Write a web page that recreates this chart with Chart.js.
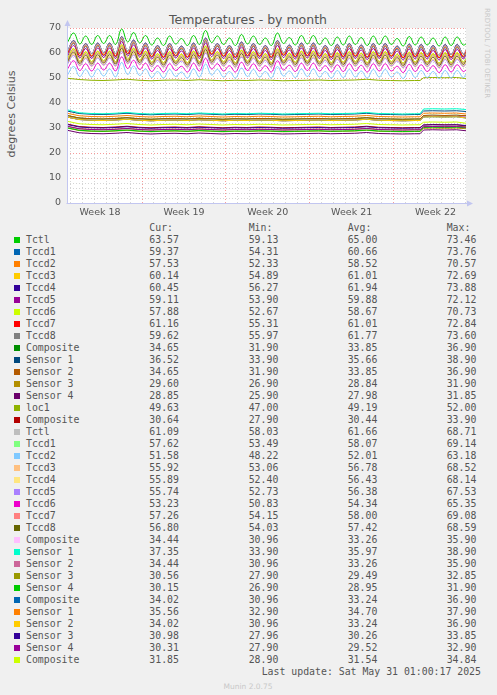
<!DOCTYPE html>
<html lang="en">
<head>
<meta charset="UTF-8">
<title>Temperatures - by month</title>
<script src="https://cdn.jsdelivr.net/npm/chart.js"></script>
<style>
  body { margin: 0; background: #f0f0f0; width: 497px; height: 695px; overflow: hidden; position: relative; font-family: 'DejaVu Sans', sans-serif; color: #555; }
  #chartBox { position: absolute; left: 0; top: 0; width: 497px; height: 222px; }
  .title { position: absolute; left: 248px; top: 19px; transform: translate(-50%, -50%); font-size: 12.5px; white-space: nowrap; }
  .ytitle { position: absolute; left: 11px; top: 114px; transform: translate(-50%, -50%) rotate(-90deg); font-size: 11px; white-space: nowrap; }
  .mark { position: absolute; left: 487px; top: 53px; transform: translate(-50%, -50%) rotate(90deg); font-size: 7px; color: #c8c8c8; white-space: nowrap; }
  #legend { position: absolute; left: 0; top: 0; font-family: 'DejaVu Sans Mono', monospace; font-size: 9.85px; color: #555; }
  #legend .txt { position: absolute; height: 12px; line-height: 12px; white-space: nowrap; }
  #legend .sq { position: absolute; width: 6px; height: 6px; }
  .munin { position: absolute; left: 248px; top: 686px; transform: translate(-50%, -50%); font-size: 7.5px; color: #c8c8c8; white-space: nowrap; }
</style>
</head>
<body>
<div class="title">Temperatures - by month</div>
<div class="ytitle">degrees Celsius</div>
<div class="mark">RRDTOOL / TOBI OETIKER</div>
<div id="chartBox"><canvas id="chart" width="497" height="222"></canvas></div>
<div id="legend"></div>
<div class="munin">Munin 2.0.75</div>

<script>
// time axis in days from Mon 28 Apr 00:00 (start of week 18)
const tHalf = [0.75, 1.3,1.8, 2.3,2.8, 3.3,3.8, 4.3,4.8, 5.3,5.8, 6.3,6.8, 7.3,7.8, 8.3,8.8, 9.3,9.8, 10.3,10.8,
  11.3,11.8, 12.3,12.8, 13.3,13.8, 14.3,14.8, 15.3,15.8, 16.3,16.8, 17.3,17.8, 18.3,18.8, 19.3,19.8, 20.3,20.8,
  21.3,21.8, 22.3,22.8, 23.3,23.8, 24.3,24.8, 25.3,25.8, 26.3,26.8, 27.3,27.8, 28.3,28.8, 29.3,29.8, 30.3,30.8,
  31.3,31.8, 32.3,32.8, 33.3,33.8, 34.04];
const tDay = [0.75, 1.75, 2.75, 3.75, 4.75, 5.75, 6.75, 7.75, 8.75, 9.75, 10.75, 11.75, 12.75, 13.75, 14.75,
  15.75, 16.75, 17.75, 18.75, 19.75, 20.75, 21.75, 22.75, 23.75, 24.75, 25.75, 26.75, 27.75, 28.75, 29.75,
  30.2, 30.5, 31.25, 32.25, 33.25, 34.04];

const dayLines = [1,2,3,4,5,6,7,8,9,10,11,12,13,14,15,16,17,18,19,20,21,22,23,24,25,26,27,28,29,30,31,32,33,34];
const weekLines = [7, 14, 21, 28];
const weekMid = [3.5, 10.5, 17.5, 24.5, 31.5];
const weekLabels = ['Week 18', 'Week 19', 'Week 20', 'Week 21', 'Week 22'];

const names = ['Tctl','Tccd1','Tccd2','Tccd3','Tccd4','Tccd5','Tccd6','Tccd7','Tccd8',
  'Composite','Sensor 1','Sensor 2','Sensor 3','Sensor 4','loc1','Composite',
  'Tctl','Tccd1','Tccd2','Tccd3','Tccd4','Tccd5','Tccd6','Tccd7','Tccd8',
  'Composite','Sensor 1','Sensor 2','Sensor 3','Sensor 4',
  'Composite','Sensor 1','Sensor 2','Sensor 3','Sensor 4','Composite'];
const colors = ['#00CC00','#0066B3','#FF8000','#FFCC00','#330099','#990099','#CCFF00','#FF0000','#808080',
  '#008F00','#00487D','#B35A00','#B38F00','#6B006B','#8FB300','#B30000',
  '#BEBEBE','#80FF80','#80C9FF','#FFC080','#FFE680','#AA80FF','#EE00CC','#FF8080','#666600',
  '#FFBFFF','#00FFCC','#CC6699','#999900','#00CC00',
  '#0066B3','#FF8000','#FFCC00','#330099','#990099','#CCFF00'];

const curVals = [63.57,59.37,57.53,60.14,60.45,59.11,57.88,61.16,59.62,34.65,36.52,34.65,29.60,28.85,49.63,30.64,
  61.09,57.62,51.58,55.92,55.89,55.74,53.23,57.26,56.80,34.44,37.35,34.44,30.56,30.15,34.02,35.56,34.02,30.98,30.31,31.85];
const minVals = [59.13,54.31,52.33,54.89,56.27,53.90,52.67,55.31,55.97,31.90,33.90,31.90,26.90,25.90,47.00,27.90,
  58.03,53.49,48.22,53.06,52.40,52.73,50.83,54.15,54.03,30.96,33.90,30.96,27.90,26.90,30.96,32.90,30.96,27.96,27.90,28.90];
const avgVals = [65.00,60.66,58.52,61.01,61.94,59.88,58.67,61.01,61.77,33.85,35.66,33.85,28.84,27.98,49.19,30.44,
  61.66,58.07,52.01,56.78,56.43,56.38,54.34,58.00,57.42,33.26,35.97,33.26,29.49,28.95,33.24,34.70,33.24,30.26,29.52,31.54];
const maxVals = [73.46,73.76,70.57,72.69,73.88,72.12,70.73,72.84,73.60,36.90,38.90,36.90,31.90,31.85,52.00,33.90,
  68.71,69.14,63.18,68.52,68.14,67.53,65.35,69.08,68.59,35.90,38.90,35.90,32.85,31.90,36.90,37.90,36.90,33.85,32.90,34.84];

// CPU 1 (sampled twice a day, on tHalf)
const tctlA = [64.0, 68.0,63.6, 66.8,63.4, 67.0,63.8, 67.0,63.4, 69.6,64.4, 68.2,64.0, 67.0,63.2, 66.0,63.0, 66.8,63.6, 65.8,63.0,
  67.0,63.4, 69.0,64.2, 66.8,63.4, 66.0,63.0, 67.4,63.6, 66.8,63.4, 66.0,63.0, 68.0,63.8, 66.2,63.2, 67.0,63.6,
  67.0,63.4, 66.0,63.0, 66.4,63.2, 66.8,63.4, 66.2,63.0, 66.8,63.4, 66.8,63.4, 65.8,62.8, 66.6,63.2, 66.4,63.2,
  66.0,62.8, 66.4,63.0, 66.4,63.2, 63.6];
const tccd1A = [59.4, 63.8,58.8, 62.6,58.6, 62.8,59.0, 62.8,58.6, 65.4,59.6, 64.0,59.2, 62.8,58.4, 61.8,58.2, 62.6,58.8, 61.6,58.2,
  62.8,58.6, 64.8,59.4, 62.6,58.6, 61.8,58.2, 63.2,58.8, 62.6,58.6, 61.8,58.2, 63.8,59.0, 62.0,58.4, 62.8,58.8,
  62.8,58.6, 61.8,58.2, 62.2,58.4, 62.6,58.6, 62.0,58.2, 62.6,58.6, 62.6,58.6, 61.6,58.0, 62.4,58.4, 62.2,58.4,
  61.8,58.0, 62.2,58.2, 62.2,58.4, 59.4];
const tccd2A = [57.0, 61.6,56.6, 60.4,56.4, 60.6,56.8, 60.6,56.4, 63.2,57.4, 61.8,57.0, 60.6,56.2, 59.6,56.0, 60.4,56.6, 59.4,56.0,
  60.6,56.4, 62.6,57.2, 60.4,56.4, 59.6,56.0, 61.0,56.6, 60.4,56.4, 59.6,56.0, 61.6,56.8, 59.8,56.2, 60.6,56.6,
  60.6,56.4, 59.6,56.0, 60.0,56.2, 60.4,56.4, 59.8,56.0, 60.4,56.4, 60.4,56.4, 59.4,55.8, 60.2,56.2, 60.0,56.2,
  59.6,55.8, 60.0,56.0, 60.0,56.2, 57.5];
const tccd3A = [59.6, 64.1,59.1, 62.9,58.9, 63.1,59.3, 63.1,58.9, 65.7,59.9, 64.3,59.5, 63.1,58.7, 62.1,58.5, 62.9,59.1, 61.9,58.5,
  63.1,58.9, 65.1,59.7, 62.9,58.9, 62.1,58.5, 63.5,59.1, 62.9,58.9, 62.1,58.5, 64.1,59.3, 62.3,58.7, 63.1,59.1,
  63.1,58.9, 62.1,58.5, 62.5,58.7, 62.9,58.9, 62.3,58.5, 62.9,58.9, 62.9,58.9, 61.9,58.3, 62.7,58.7, 62.5,58.7,
  62.1,58.3, 62.5,58.5, 62.5,58.7, 60.1];
const tccd4A = [60.4, 65.0,60.0, 63.8,59.8, 64.0,60.2, 64.0,59.8, 66.6,60.8, 65.2,60.4, 64.0,59.6, 63.0,59.4, 63.8,60.0, 62.8,59.4,
  64.0,59.8, 66.0,60.6, 63.8,59.8, 63.0,59.4, 64.4,60.0, 63.8,59.8, 63.0,59.4, 65.0,60.2, 63.2,59.6, 64.0,60.0,
  64.0,59.8, 63.0,59.4, 63.4,59.6, 63.8,59.8, 63.2,59.4, 63.8,59.8, 63.8,59.8, 62.8,59.2, 63.6,59.6, 63.4,59.6,
  63.0,59.2, 63.4,59.4, 63.4,59.6, 60.5];
const tccd5A = [58.4, 63.0,58.0, 61.8,57.8, 62.0,58.2, 62.0,57.8, 64.6,58.8, 63.2,58.4, 62.0,57.6, 61.0,57.4, 61.8,58.0, 60.8,57.4,
  62.0,57.8, 64.0,58.6, 61.8,57.8, 61.0,57.4, 62.4,58.0, 61.8,57.8, 61.0,57.4, 63.0,58.2, 61.2,57.6, 62.0,58.0,
  62.0,57.8, 61.0,57.4, 61.4,57.6, 61.8,57.8, 61.2,57.4, 61.8,57.8, 61.8,57.8, 60.8,57.2, 61.6,57.6, 61.4,57.6,
  61.0,57.2, 61.4,57.4, 61.4,57.6, 59.1];
const tccd6A = [57.4, 61.8,56.8, 60.6,56.6, 60.8,57.0, 60.8,56.6, 63.4,57.6, 62.0,57.2, 60.8,56.4, 59.8,56.2, 60.6,56.8, 59.6,56.2,
  60.8,56.6, 62.8,57.4, 60.6,56.6, 59.8,56.2, 61.2,56.8, 60.6,56.6, 59.8,56.2, 61.8,57.0, 60.0,56.4, 60.8,56.8,
  60.8,56.6, 59.8,56.2, 60.2,56.4, 60.6,56.6, 60.0,56.2, 60.6,56.6, 60.6,56.6, 59.6,56.0, 60.4,56.4, 60.2,56.4,
  59.8,56.0, 60.2,56.2, 60.2,56.4, 57.9];
const tccd7A = [59.6, 64.3,58.9, 63.1,58.7, 63.3,59.1, 63.3,58.7, 65.9,59.7, 64.5,59.3, 63.3,58.5, 62.3,58.3, 63.1,58.9, 62.1,58.3,
  63.3,58.7, 65.3,59.5, 63.1,58.7, 62.3,58.3, 63.7,58.9, 63.1,58.7, 62.3,58.3, 64.3,59.1, 62.5,58.5, 63.3,58.9,
  63.3,58.7, 62.3,58.3, 62.7,58.5, 63.1,58.7, 62.5,58.3, 63.1,58.7, 63.1,58.7, 62.1,58.1, 62.9,58.5, 62.7,58.5,
  62.3,58.1, 62.7,58.3, 62.7,58.5, 61.2];
const tccd8A = [60.2, 64.9,59.9, 63.7,59.7, 63.9,60.1, 63.9,59.7, 66.5,60.7, 65.1,60.3, 63.9,59.5, 62.9,59.3, 63.7,59.9, 62.7,59.3,
  63.9,59.7, 65.9,60.5, 63.7,59.7, 62.9,59.3, 64.3,59.9, 63.7,59.7, 62.9,59.3, 64.9,60.1, 63.1,59.5, 63.9,59.9,
  63.9,59.7, 62.9,59.3, 63.3,59.5, 63.7,59.7, 63.1,59.3, 63.7,59.7, 63.7,59.7, 62.7,59.1, 63.5,59.5, 63.3,59.5,
  62.9,59.1, 63.3,59.3, 63.3,59.5, 59.6];

// NVMe drive A and board sensor (sampled daily, on tDay)
const compA  = [35.0, 34.0, 33.7, 33.6, 33.8, 34.1, 33.7, 33.5, 33.7, 33.8, 33.6, 33.9, 33.7, 33.5, 33.7, 33.6, 33.8, 33.7, 33.5, 33.6,
  33.7, 33.8, 33.6, 33.7, 33.8, 34.1, 33.7, 33.6, 33.5, 33.6, 33.6, 35.0, 35.1, 35.0, 35.1, 34.9];
const sens1A = [36.8, 35.8, 35.5, 35.4, 35.6, 35.9, 35.5, 35.3, 35.5, 35.6, 35.4, 35.7, 35.5, 35.3, 35.5, 35.4, 35.6, 35.5, 35.3, 35.4,
  35.5, 35.6, 35.4, 35.5, 35.6, 35.9, 35.5, 35.4, 35.3, 35.4, 35.4, 36.8, 36.9, 36.8, 36.9, 36.6];
const sens2A = [35.0, 34.0, 33.7, 33.6, 33.8, 34.1, 33.7, 33.5, 33.7, 33.8, 33.6, 33.9, 33.7, 33.5, 33.7, 33.6, 33.8, 33.7, 33.5, 33.6,
  33.7, 33.8, 33.6, 33.7, 33.8, 34.1, 33.7, 33.6, 33.5, 33.6, 33.6, 35.0, 35.1, 35.0, 35.1, 34.9];
const sens3A = [30.0, 29.0, 28.7, 28.6, 28.8, 29.1, 28.7, 28.5, 28.7, 28.8, 28.6, 28.9, 28.7, 28.5, 28.7, 28.6, 28.8, 28.7, 28.5, 28.6,
  28.7, 28.8, 28.6, 28.7, 28.8, 29.1, 28.7, 28.6, 28.5, 28.6, 28.6, 29.9, 30.0, 29.9, 30.0, 29.7];
const sens4A = [29.1, 28.1, 27.8, 27.7, 27.9, 28.2, 27.8, 27.6, 27.8, 27.9, 27.7, 28.0, 27.8, 27.6, 27.8, 27.7, 27.9, 27.8, 27.6, 27.7,
  27.8, 27.9, 27.7, 27.8, 27.9, 28.2, 27.8, 27.7, 27.6, 27.7, 27.7, 29.2, 29.3, 29.2, 29.3, 28.9];
const loc1   = [49.9, 49.4, 49.1, 49.0, 49.2, 49.5, 49.1, 48.9, 49.1, 49.2, 49.0, 49.3, 49.1, 48.9, 49.1, 49.0, 49.2, 49.1, 48.9, 49.0,
  49.1, 49.2, 49.0, 49.1, 49.2, 49.5, 49.1, 49.0, 48.9, 49.0, 49.0, 50.1, 50.2, 50.1, 50.2, 49.8];
const compB  = [31.6, 30.6, 30.3, 30.2, 30.4, 30.7, 30.3, 30.1, 30.3, 30.4, 30.2, 30.5, 30.3, 30.1, 30.3, 30.2, 30.4, 30.3, 30.1, 30.2,
  30.3, 30.4, 30.2, 30.3, 30.4, 30.7, 30.3, 30.2, 30.1, 30.2, 30.2, 31.2, 31.4, 31.3, 31.3, 30.8];

// CPU 2 (tHalf)
const tctlB = [60.6, 64.4,60.1, 63.2,59.9, 63.4,60.3, 63.4,59.9, 66.0,60.9, 64.6,60.5, 63.4,59.7, 62.4,59.5, 63.2,60.1, 62.2,59.5,
  63.4,59.9, 65.4,60.7, 63.2,59.9, 62.4,59.5, 63.8,60.1, 63.2,59.9, 62.4,59.5, 64.4,60.3, 62.6,59.7, 63.4,60.1,
  63.4,59.9, 62.4,59.5, 62.8,59.7, 63.2,59.9, 62.6,59.5, 63.2,59.9, 63.2,59.9, 62.2,59.3, 63.0,59.7, 62.8,59.7,
  62.4,59.3, 62.8,59.5, 62.8,59.7, 61.1];
const tccd1B = [56.8, 61.0,56.4, 59.8,56.2, 60.0,56.6, 60.0,56.2, 62.6,57.2, 61.2,56.8, 60.0,56.0, 59.0,55.8, 59.8,56.4, 58.8,55.8,
  60.0,56.2, 62.0,57.0, 59.8,56.2, 59.0,55.8, 60.4,56.4, 59.8,56.2, 59.0,55.8, 61.0,56.6, 59.2,56.0, 60.0,56.4,
  60.0,56.2, 59.0,55.8, 59.4,56.0, 59.8,56.2, 59.2,55.8, 59.8,56.2, 59.8,56.2, 58.8,55.6, 59.6,56.0, 59.4,56.0,
  59.0,55.6, 59.4,55.8, 59.4,56.0, 57.6];
const tccd2B = [51.0, 54.6,50.6, 53.4,50.4, 53.6,50.8, 53.6,50.4, 56.2,51.4, 54.8,51.0, 53.6,50.2, 52.6,50.0, 53.4,50.6, 52.4,50.0,
  53.6,50.4, 55.6,51.2, 53.4,50.4, 52.6,50.0, 54.0,50.6, 53.4,50.4, 52.6,50.0, 54.6,50.8, 52.8,50.2, 53.6,50.6,
  53.6,50.4, 52.6,50.0, 53.0,50.2, 53.4,50.4, 52.8,50.0, 53.4,50.4, 53.4,50.4, 52.4,49.8, 53.2,50.2, 53.0,50.2,
  52.6,49.8, 53.0,50.0, 53.0,50.2, 51.6];
const tccd3B = [55.6, 59.6,55.2, 58.4,55.0, 58.6,55.4, 58.6,55.0, 61.2,56.0, 59.8,55.6, 58.6,54.8, 57.6,54.6, 58.4,55.2, 57.4,54.6,
  58.6,55.0, 60.6,55.8, 58.4,55.0, 57.6,54.6, 59.0,55.2, 58.4,55.0, 57.6,54.6, 59.6,55.4, 57.8,54.8, 58.6,55.2,
  58.6,55.0, 57.6,54.6, 58.0,54.8, 58.4,55.0, 57.8,54.6, 58.4,55.0, 58.4,55.0, 57.4,54.4, 58.2,54.8, 58.0,54.8,
  57.6,54.4, 58.0,54.6, 58.0,54.8, 55.9];
const tccd4B = [55.2, 59.3,54.8, 58.1,54.6, 58.3,55.0, 58.3,54.6, 60.9,55.6, 59.5,55.2, 58.3,54.4, 57.3,54.2, 58.1,54.8, 57.1,54.2,
  58.3,54.6, 60.3,55.4, 58.1,54.6, 57.3,54.2, 58.7,54.8, 58.1,54.6, 57.3,54.2, 59.3,55.0, 57.5,54.4, 58.3,54.8,
  58.3,54.6, 57.3,54.2, 57.7,54.4, 58.1,54.6, 57.5,54.2, 58.1,54.6, 58.1,54.6, 57.1,54.0, 57.9,54.4, 57.7,54.4,
  57.3,54.0, 57.7,54.2, 57.7,54.4, 55.9];
const tccd5B = [55.4, 59.0,55.0, 57.8,54.8, 58.0,55.2, 58.0,54.8, 60.6,55.8, 59.2,55.4, 58.0,54.6, 57.0,54.4, 57.8,55.0, 56.8,54.4,
  58.0,54.8, 60.0,55.6, 57.8,54.8, 57.0,54.4, 58.4,55.0, 57.8,54.8, 57.0,54.4, 59.0,55.2, 57.2,54.6, 58.0,55.0,
  58.0,54.8, 57.0,54.4, 57.4,54.6, 57.8,54.8, 57.2,54.4, 57.8,54.8, 57.8,54.8, 56.8,54.2, 57.6,54.6, 57.4,54.6,
  57.0,54.2, 57.4,54.4, 57.4,54.6, 55.7];
const tccd6B = [53.4, 56.9,53.0, 55.7,52.8, 55.9,53.2, 55.9,52.8, 58.5,53.8, 57.1,53.4, 55.9,52.6, 54.9,52.4, 55.7,53.0, 54.7,52.4,
  55.9,52.8, 57.9,53.6, 55.7,52.8, 54.9,52.4, 56.3,53.0, 55.7,52.8, 54.9,52.4, 56.9,53.2, 55.1,52.6, 55.9,53.0,
  55.9,52.8, 54.9,52.4, 55.3,52.6, 55.7,52.8, 55.1,52.4, 55.7,52.8, 55.7,52.8, 54.7,52.2, 55.5,52.6, 55.3,52.6,
  54.9,52.2, 55.3,52.4, 55.3,52.6, 53.2];
const tccd7B = [56.7, 60.9,56.3, 59.7,56.1, 59.9,56.5, 59.9,56.1, 62.5,57.1, 61.1,56.7, 59.9,55.9, 58.9,55.7, 59.7,56.3, 58.7,55.7,
  59.9,56.1, 61.9,56.9, 59.7,56.1, 58.9,55.7, 60.3,56.3, 59.7,56.1, 58.9,55.7, 60.9,56.5, 59.1,55.9, 59.9,56.3,
  59.9,56.1, 58.9,55.7, 59.3,55.9, 59.7,56.1, 59.1,55.7, 59.7,56.1, 59.7,56.1, 58.7,55.5, 59.5,55.9, 59.3,55.9,
  58.9,55.5, 59.3,55.7, 59.3,55.9, 57.3];
const tccd8B = [56.2, 60.3,55.8, 59.1,55.6, 59.3,56.0, 59.3,55.6, 61.9,56.6, 60.5,56.2, 59.3,55.4, 58.3,55.2, 59.1,55.8, 58.1,55.2,
  59.3,55.6, 61.3,56.4, 59.1,55.6, 58.3,55.2, 59.7,55.8, 59.1,55.6, 58.3,55.2, 60.3,56.0, 58.5,55.4, 59.3,55.8,
  59.3,55.6, 58.3,55.2, 58.7,55.4, 59.1,55.6, 58.5,55.2, 59.1,55.6, 59.1,55.6, 58.1,55.0, 58.9,55.4, 58.7,55.4,
  58.3,55.0, 58.7,55.2, 58.7,55.4, 56.8];

// NVMe drives C, D, E (tDay)
const compC  = [34.4, 33.4, 33.1, 33.0, 33.2, 33.5, 33.1, 32.9, 33.1, 33.2, 33.0, 33.3, 33.1, 32.9, 33.1, 33.0, 33.2, 33.1, 32.9, 33.0,
  33.1, 33.2, 33.0, 33.1, 33.2, 33.5, 33.1, 33.0, 32.9, 33.0, 33.0, 34.6, 34.7, 34.6, 34.7, 34.4];
const sens1C = [37.3, 36.1, 35.8, 35.7, 35.9, 36.2, 35.8, 35.6, 35.8, 35.9, 35.7, 36.0, 35.8, 35.6, 35.8, 35.7, 35.9, 35.8, 35.6, 35.7,
  35.8, 35.9, 35.7, 35.8, 35.9, 36.2, 35.8, 35.7, 35.6, 35.7, 35.7, 37.6, 37.7, 37.6, 37.7, 37.4];
const sens2C = [34.4, 33.4, 33.1, 33.0, 33.2, 33.5, 33.1, 32.9, 33.1, 33.2, 33.0, 33.3, 33.1, 32.9, 33.1, 33.0, 33.2, 33.1, 32.9, 33.0,
  33.1, 33.2, 33.0, 33.1, 33.2, 33.5, 33.1, 33.0, 32.9, 33.0, 33.0, 34.6, 34.7, 34.6, 34.7, 34.4];
const sens3C = [30.7, 29.7, 29.4, 29.3, 29.5, 29.8, 29.4, 29.2, 29.4, 29.5, 29.3, 29.6, 29.4, 29.2, 29.4, 29.3, 29.5, 29.4, 29.2, 29.3,
  29.4, 29.5, 29.3, 29.4, 29.5, 29.8, 29.4, 29.3, 29.2, 29.3, 29.3, 30.6, 30.7, 30.6, 30.7, 30.5];
const sens4C = [30.1, 29.1, 28.8, 28.7, 28.9, 29.2, 28.8, 28.6, 28.8, 28.9, 28.7, 29.0, 28.8, 28.6, 28.8, 28.7, 28.9, 28.8, 28.6, 28.7,
  28.8, 28.9, 28.7, 28.8, 28.9, 29.2, 28.8, 28.7, 28.6, 28.7, 28.7, 30.2, 30.3, 30.2, 30.3, 30.1];
const compD  = [34.4, 33.4, 33.1, 33.0, 33.2, 33.5, 33.1, 32.9, 33.1, 33.2, 33.0, 33.3, 33.1, 32.9, 33.1, 33.0, 33.2, 33.1, 32.9, 33.0,
  33.1, 33.2, 33.0, 33.1, 33.2, 33.5, 33.1, 33.0, 32.9, 33.0, 33.0, 34.4, 34.5, 34.4, 34.5, 34.0];
const sens1D = [35.9, 34.9, 34.6, 34.5, 34.7, 35.0, 34.6, 34.4, 34.6, 34.7, 34.5, 34.8, 34.6, 34.4, 34.6, 34.5, 34.7, 34.6, 34.4, 34.5,
  34.6, 34.7, 34.5, 34.6, 34.7, 35.0, 34.6, 34.5, 34.4, 34.5, 34.5, 35.9, 36.0, 35.9, 36.0, 35.6];
const sens2D = [34.4, 33.4, 33.1, 33.0, 33.2, 33.5, 33.1, 32.9, 33.1, 33.2, 33.0, 33.3, 33.1, 32.9, 33.1, 33.0, 33.2, 33.1, 32.9, 33.0,
  33.1, 33.2, 33.0, 33.1, 33.2, 33.5, 33.1, 33.0, 32.9, 33.0, 33.0, 34.4, 34.5, 34.4, 34.5, 34.0];
const sens3D = [31.4, 30.4, 30.1, 30.0, 30.2, 30.5, 30.1, 29.9, 30.1, 30.2, 30.0, 30.3, 30.1, 29.9, 30.1, 30.0, 30.2, 30.1, 29.9, 30.0,
  30.1, 30.2, 30.0, 30.1, 30.2, 30.5, 30.1, 30.0, 29.9, 30.0, 30.0, 31.2, 31.3, 31.2, 31.3, 31.0];
const sens4D = [30.7, 29.7, 29.4, 29.3, 29.5, 29.8, 29.4, 29.2, 29.4, 29.5, 29.3, 29.6, 29.4, 29.2, 29.4, 29.3, 29.5, 29.4, 29.2, 29.3,
  29.4, 29.5, 29.3, 29.4, 29.5, 29.8, 29.4, 29.3, 29.2, 29.3, 29.3, 30.5, 30.6, 30.5, 30.6, 30.3];
const compE  = [32.7, 31.7, 31.4, 31.3, 31.5, 31.8, 31.4, 31.2, 31.4, 31.5, 31.3, 31.6, 31.4, 31.2, 31.4, 31.3, 31.5, 31.4, 31.2, 31.3,
  31.4, 31.5, 31.3, 31.4, 31.5, 31.8, 31.4, 31.3, 31.2, 31.3, 31.3, 32.3, 32.4, 32.3, 32.4, 31.9];

const seriesValues = [tctlA, tccd1A, tccd2A, tccd3A, tccd4A, tccd5A, tccd6A, tccd7A, tccd8A,
  compA, sens1A, sens2A, sens3A, sens4A, loc1, compB,
  tctlB, tccd1B, tccd2B, tccd3B, tccd4B, tccd5B, tccd6B, tccd7B, tccd8B,
  compC, sens1C, sens2C, sens3C, sens4C, compD, sens1D, sens2D, sens3D, sens4D, compE];

const gridGray = 'rgba(185,185,185,0.6)';
const gridRed = 'rgba(240,90,90,0.6)';
const axisColor = '#c2c6f0';

const datasets = seriesValues.map((vals, i) => {
  const times = vals.length === tHalf.length ? tHalf : tDay;
  return {
    label: names[i],
    data: vals.map((v, j) => ({ x: times[j], y: v })),
    borderColor: colors[i],
    borderWidth: 1,
    pointRadius: 0,
    fill: false,
    tension: times === tHalf ? 0.4 : 0,
    order: -i   // later series drawn on top, like rrdtool
  };
});

const xTicks = dayLines.concat(weekMid).sort((a, b) => a - b);

// white plot area behind the grid
const plotBg = {
  id: 'plotBg',
  beforeDraw(chart) {
    const { ctx, chartArea: a } = chart;
    ctx.save();
    ctx.fillStyle = '#ffffff';
    ctx.fillRect(a.left, a.top, a.right - a.left, a.bottom - a.top);
    ctx.restore();
  }
};

// rrdtool style axis lines with arrow heads
const axisArrows = {
  id: 'axisArrows',
  afterDraw(chart) {
    const { ctx, chartArea: a } = chart;
    const x0 = Math.round(a.left) + 0.5, y0 = Math.round(a.bottom) + 0.5;
    ctx.save();
    ctx.strokeStyle = axisColor;
    ctx.fillStyle = axisColor;
    ctx.lineWidth = 1;
    ctx.beginPath();
    ctx.moveTo(x0, y0);
    ctx.lineTo(x0, a.top - 3);
    ctx.moveTo(x0 - 1, y0);
    ctx.lineTo(a.right + 3, y0);
    ctx.stroke();
    ctx.beginPath();
    ctx.moveTo(x0 - 3, a.top - 2);
    ctx.lineTo(x0 + 3, a.top - 2);
    ctx.lineTo(x0, a.top - 8);
    ctx.closePath();
    ctx.fill();
    ctx.beginPath();
    ctx.moveTo(a.right + 1, y0 - 3);
    ctx.lineTo(a.right + 1, y0 + 3);
    ctx.lineTo(a.right + 7, y0);
    ctx.closePath();
    ctx.fill();
    ctx.restore();
  }
};

Chart.defaults.font.family = "'DejaVu Sans', sans-serif";

new Chart(document.getElementById('chart'), {
  type: 'line',
  data: { datasets },
  options: {
    responsive: false,
    animation: false,
    layout: { padding: { left: 0, top: 28, right: 31, bottom: 0 } },
    plugins: { legend: { display: false }, tooltip: { enabled: false } },
    scales: {
      x: {
        type: 'linear',
        min: 0.74,
        max: 34.04,
        afterBuildTicks: scale => { scale.ticks = xTicks.map(v => ({ value: v })); },
        afterFit: scale => { scale.height = 19; },
        ticks: {
          autoSkip: false,
          maxRotation: 0,
          padding: 4,
          color: '#555',
          font: { size: 9.5 },
          callback: v => { const k = weekMid.indexOf(v); return k >= 0 ? weekLabels[k] : ''; }
        },
        grid: {
          drawTicks: false,
          color: ctx => {
            const v = ctx.tick ? ctx.tick.value : 0;
            if (weekMid.includes(v)) return 'rgba(0,0,0,0)';
            return weekLines.includes(v) ? gridRed : gridGray;
          }
        },
        border: { display: false, dash: [1, 2] }
      },
      y: {
        min: 0,
        max: 70,
        afterFit: scale => { scale.width = 67; },
        ticks: {
          stepSize: 2,
          autoSkip: false,
          padding: 6,
          color: '#555',
          font: { size: 9.5 },
          callback: v => (v % 10 === 0 ? String(v) : '')
        },
        grid: {
          drawTicks: false,
          color: ctx => (ctx.tick && ctx.tick.value % 10 === 0 ? gridRed : gridGray)
        },
        border: { display: false, dash: [1, 2] }
      }
    }
  },
  plugins: [plotBg, axisArrows]
});

// legend table under the graph, as munin prints it
const legend = document.getElementById('legend');
const colX = [149.3, 248.7, 347.7, 446.7];
function addText(txt, left, top) {
  const d = document.createElement('div');
  d.className = 'txt';
  d.textContent = txt;
  d.style.left = left + 'px';
  d.style.top = top + 'px';
  legend.appendChild(d);
}
['Cur:', 'Min:', 'Avg:', 'Max:'].forEach((h, j) => addText(h, colX[j], 222));
names.forEach((n, i) => {
  const top = 234 + i * 12;
  const sq = document.createElement('div');
  sq.className = 'sq';
  sq.style.left = '14px';
  sq.style.top = (top + 3) + 'px';
  sq.style.background = colors[i];
  legend.appendChild(sq);
  addText(n, 26, top);
  [curVals, minVals, avgVals, maxVals].forEach((arr, j) => addText(arr[i].toFixed(2), colX[j], top));
});
addText('Last update: Sat May 31 01:00:17 2025', 261.7, 666);
</script>
</body>
</html>
